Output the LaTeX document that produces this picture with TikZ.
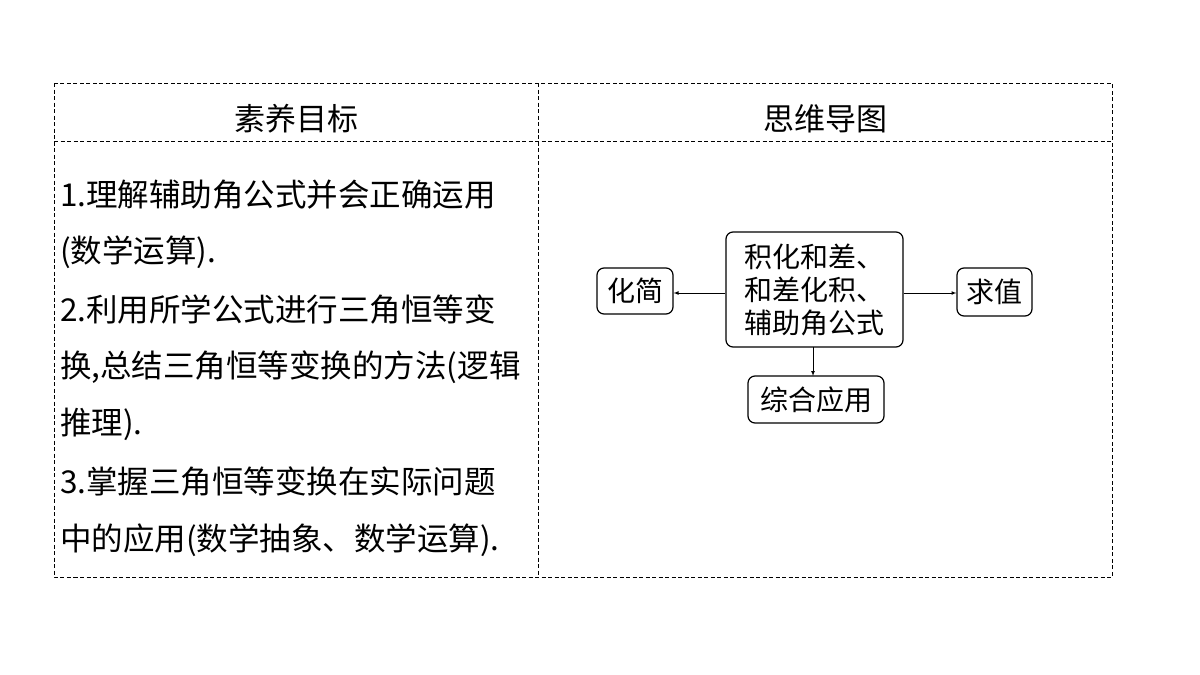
\documentclass[tikz,border=0pt]{standalone}
\usepackage{fontspec}
\setmainfont{Noto Sans CJK SC}
\begin{document}
\begin{tikzpicture}[x=1pt,y=-1pt,
  grid/.style={line width=1pt,dash pattern=on 4pt off 2.5pt},
  txt/.style={anchor=west,font=\fontsize{31.5}{33}\selectfont,inner sep=0},
  hd/.style={font=\fontsize{31}{32}\selectfont,inner sep=0},
  bx/.style={draw,rounded corners=7pt,line width=1.2pt,font=\fontsize{28}{33}\selectfont,align=center,inner sep=4pt},
  ar/.style={-latex,line width=0.7pt}]
\useasboundingbox (0,0) rectangle (1200,675);
\draw[grid] (54,83) rectangle (1112,577);
\draw[grid] (538,83) -- (538,577);
\draw[grid] (54,141) -- (1112,141);
\node[hd] (h1) at (296,119) {素养目标};
\node[hd] (h2) at (825,119) {思维导图};
\node[txt] (l1) at (60,195) {1.理解辅助角公式并会正确运用};
\node[txt] (l2) at (60,252) {(数学运算).};
\node[txt] (l3) at (60,310) {2.利用所学公式进行三角恒等变};
\node[txt] (l4) at (60,367) {换,总结三角恒等变换的方法(逻辑};
\node[txt] (l5) at (60,424) {推理).};
\node[txt] (l6) at (60,482) {3.掌握三角恒等变换在实际问题};
\node[txt] (l7) at (60,540) {中的应用(数学抽象、数学运算).};
\node[bx,minimum width=177pt,minimum height=115pt] (c) at (814.5,289.5) {积化和差、\\和差化积、\\辅助角公式};
\node[bx,minimum width=76pt,minimum height=46pt] (a) at (635,291) {化简};
\node[bx,minimum width=75pt,minimum height=48pt] (b) at (994.5,292) {求值};
\node[bx,minimum width=136pt,minimum height=47pt] (d) at (816,399.5) {综合应用};
\draw[ar] (c.west |- 0,293) -- (a.east |- 0,293);
\draw[ar] (c.east |- 0,293) -- (b.west |- 0,293);
\draw[ar] (813,347) -- (813,376);
\end{tikzpicture}
\end{document}
